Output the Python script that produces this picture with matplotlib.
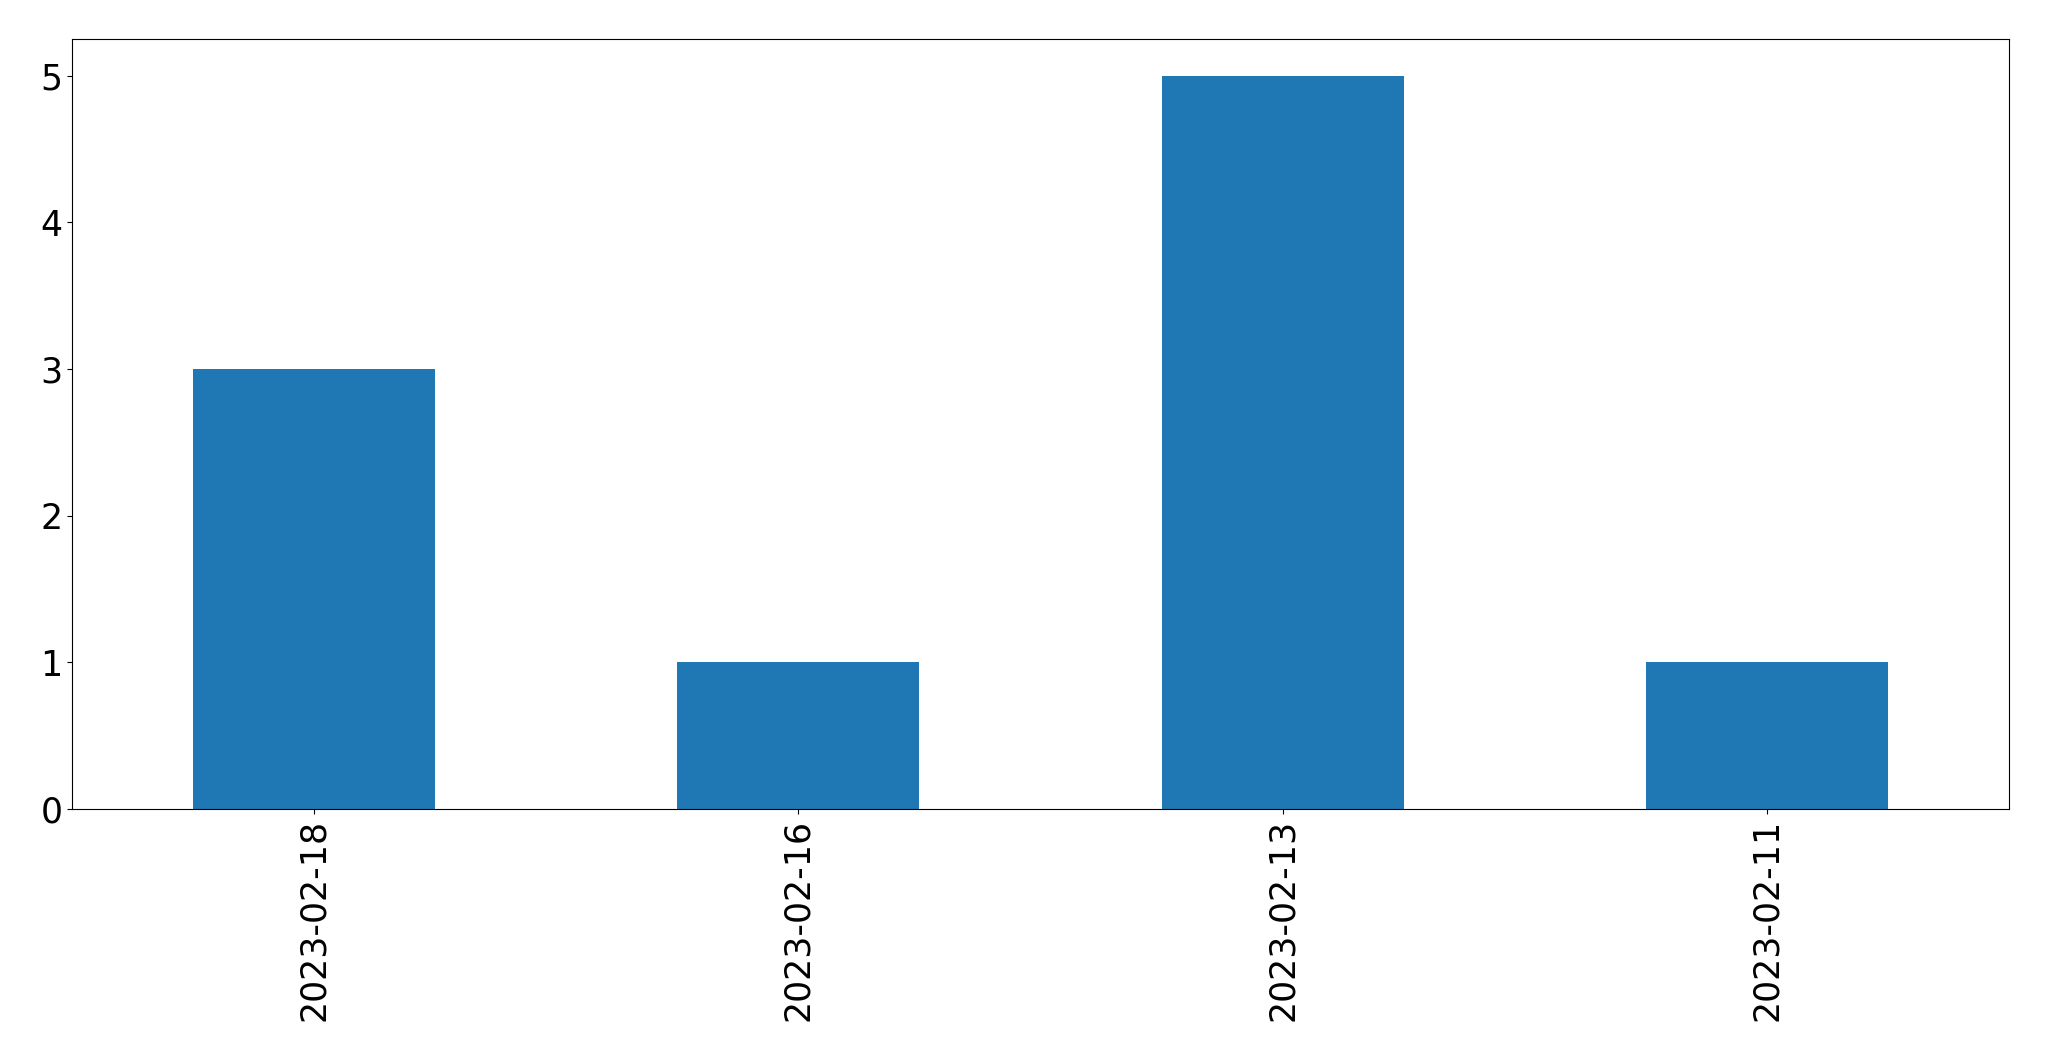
import matplotlib
matplotlib.use("Agg")
import matplotlib.pyplot as plt
import numpy as np

dates = ["2023-02-18", "2023-02-16", "2023-02-13", "2023-02-11"]
counts = [3, 1, 5, 1]

fig = plt.figure(figsize=(20.49, 10.61), dpi=100)
ax = fig.add_axes([72 / 2049, 1 - 809 / 1061, (2009 - 72) / 2049, (809 - 39) / 1061])

x = np.arange(len(dates))
ax.bar(x, counts, width=0.5, color="#1f77b4")
ax.set_xlim(-0.5, len(dates) - 0.5)
ax.set_ylim(0, max(counts) * 1.05)
ax.set_xticks(x)
ax.set_xticklabels(dates, rotation=90)
ax.tick_params(labelsize=25)

fig.savefig("out.png", dpi=100)
